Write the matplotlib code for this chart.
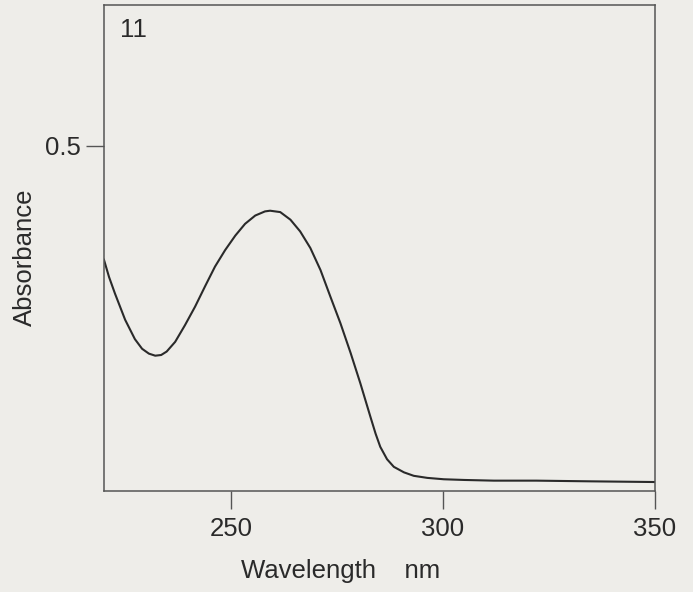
import numpy as np
import matplotlib.pyplot as plt

# Spectrum (wavelength in nm, absorbance)
wavelength = [220.0, 221.2, 222.6, 225.0, 227.3, 229.0, 230.6, 232.1, 233.5, 234.8,
              236.8, 239.1, 241.5, 243.9, 246.2, 248.6, 251.0, 253.3, 255.7, 258.0,
              259.2, 261.6, 264.0, 266.3, 268.7, 271.1, 273.4, 275.8, 278.2, 280.5,
              282.9, 284.1, 285.2, 286.8, 288.4, 290.8, 293.1, 296.3, 300.2, 305.0,
              312.0, 322.0, 335.0, 350.0]
absorbance = [0.335, 0.310, 0.286, 0.248, 0.220, 0.206, 0.199, 0.196, 0.197, 0.202,
              0.216, 0.240, 0.267, 0.297, 0.325, 0.349, 0.370, 0.387, 0.399, 0.405,
              0.406, 0.404, 0.393, 0.376, 0.352, 0.320, 0.282, 0.243, 0.200, 0.156,
              0.107, 0.083, 0.064, 0.046, 0.035, 0.027, 0.022, 0.019, 0.017, 0.016,
              0.015, 0.015, 0.014, 0.013]

x_ticks = [250, 300, 350]
y_ticks = [0.5]

bg = '#eeede9'
ink = '#2a2a2a'
frame = '#555555'

plt.rcParams['font.family'] = ['Liberation Sans', 'DejaVu Sans']

fig = plt.figure(figsize=(6.93, 5.92), dpi=100, facecolor=bg)
ax = fig.add_axes([0.150, 0.1706, 0.795, 0.821])
ax.set_facecolor(bg)

ax.plot(wavelength, absorbance, color=ink, lw=1.5, solid_joinstyle='round')

ax.set_xlim(220, 350)
ax.set_ylim(0, 0.704)
ax.set_xticks(x_ticks)
ax.set_yticks(y_ticks)
ax.set_yticklabels(['0.5'])

for s in ax.spines.values():
    s.set_color(frame)
    s.set_linewidth(1.1)

ax.tick_params(axis='both', direction='out', length=13, width=1.0, color=frame,
               labelsize=18.5, labelcolor=ink)
ax.tick_params(axis='x', pad=6)
ax.tick_params(axis='y', pad=3.5)

ax.set_xlabel('Wavelength    nm', fontsize=18.5, color=ink)
ax.xaxis.set_label_coords(0.429, -0.14)
ax.set_ylabel('Absorbance', fontsize=18.5, color=ink)
ax.yaxis.set_label_coords(-0.122, 0.481)

ax.text(0.03, 0.949, '11', transform=ax.transAxes, fontsize=18.5, color=ink,
        ha='left', va='center')

fig.savefig('out.png', dpi=100, facecolor=bg)
